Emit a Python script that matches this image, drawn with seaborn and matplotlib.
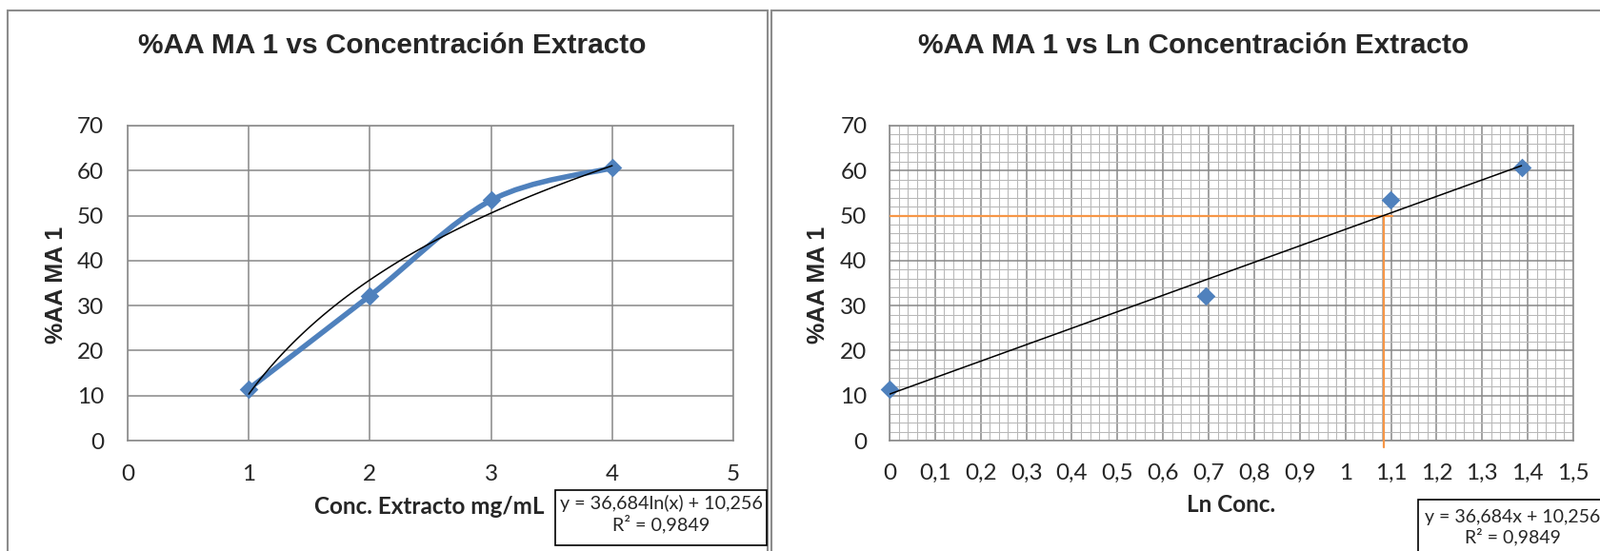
import numpy as np
import pandas as pd
import matplotlib
matplotlib.use("Agg")
import matplotlib.pyplot as plt
import seaborn as sns
from matplotlib.path import Path
from matplotlib.patches import PathPatch, Rectangle
from matplotlib.ticker import MultipleLocator

# --- data ---
conc = [1, 2, 3, 4]                      # mg/mL
aa_ma1 = [11.5, 32.2, 53.4, 60.6]        # %AA MA 1
target_aa = 50                           # 50 % line on the ln chart

conc_ticks = [0, 1, 2, 3, 4, 5]
conc_tick_labels = ["0", "1", "2", "3", "4", "5"]
ln_ticks = [0, 0.1, 0.2, 0.3, 0.4, 0.5, 0.6, 0.7, 0.8, 0.9, 1.0, 1.1, 1.2, 1.3, 1.4, 1.5]
ln_tick_labels = ["0", "0,1", "0,2", "0,3", "0,4", "0,5", "0,6", "0,7", "0,8",
                  "0,9", "1", "1,1", "1,2", "1,3", "1,4", "1,5"]
aa_ticks = [0, 10, 20, 30, 40, 50, 60, 70]

title_left = "%AA MA 1 vs Concentración Extracto"
title_right = "%AA MA 1 vs Ln Concentración Extracto"
eq_left = "y = 36,684ln(x) + 10,256\nR² = 0,9849"
eq_right = "y = 36,684x + 10,256\nR² = 0,9849"

df = pd.DataFrame({"conc": conc, "aa": aa_ma1})
df["ln_conc"] = np.log(df["conc"])

BLUE = "#4F81BD"
ORANGE = "#F79646"
GRID = "#878787"
MINOR = "#b8b8b8"
FRAME = "#8c8c8c"
CAL = ["Lato", "DejaVu Sans"]
ARIAL = ["Liberation Sans", "DejaVu Sans"]
TICK_FS = 17.5

W, H = 1680, 579
sns.set_style("white")
plt.rcParams["font.family"] = CAL
fig = plt.figure(figsize=(W / 100, H / 100), dpi=100)


def fx(x):
    return x / W


def fy(y):
    return 1 - y / H


def smooth_path(xs, ys):
    # Excel style smoothed line: cubic Bezier through the points
    pts = np.column_stack([xs, ys]).astype(float)
    n = len(pts)
    verts = [pts[0]]
    codes = [Path.MOVETO]
    for i in range(n - 1):
        p0 = pts[max(i - 1, 0)]
        p1 = pts[i]
        p2 = pts[i + 1]
        p3 = pts[min(i + 2, n - 1)]
        verts += [p1 + (p2 - p0) / 6, p2 - (p3 - p1) / 6, p2]
        codes += [Path.CURVE4] * 3
    return Path(verts, codes)


# panel frames
fig.patches.append(Rectangle((fx(8), fy(620)), fx(806 - 8), fy(11) - fy(620),
                             transform=fig.transFigure, fill=False, ec=FRAME, lw=1.5))
fig.patches.append(Rectangle((fx(810), fy(620)), fx(1700 - 810), fy(11) - fy(620),
                             transform=fig.transFigure, fill=False, ec=FRAME, lw=1.5))

ax1 = fig.add_axes([fx(134), fy(463), fx(770 - 134), fy(132) - fy(463)])
ax2 = fig.add_axes([fx(934), fy(463), fx(1652 - 934), fy(132) - fy(463)])

# === left: %AA vs concentration ===
ax1.add_patch(PathPatch(smooth_path(df["conc"], df["aa"]), fill=False, ec=BLUE,
                        lw=4, capstyle="round", joinstyle="round", zorder=3))
sns.scatterplot(data=df, x="conc", y="aa", marker="D", s=100, color=BLUE,
                edgecolor=BLUE, linewidth=0, ax=ax1, zorder=4)
sns.regplot(data=df, x="conc", y="aa", logx=True, ci=None, scatter=False,
            line_kws={"color": "black", "lw": 1.1, "zorder": 5}, ax=ax1)
ax1.set_xlim(0, 5)
ax1.set_ylim(0, 70)
ax1.set_xticks(conc_ticks, conc_tick_labels)
ax1.set_yticks(aa_ticks)
ax1.grid(True, color=GRID, lw=1.1)
ax1.tick_params(length=0, labelsize=TICK_FS, pad=18)
ax1.set_xlabel("")
ax1.set_ylabel("")

# === right: %AA vs ln concentration ===
sns.scatterplot(data=df, x="ln_conc", y="aa", marker="D", s=100, color=BLUE,
                edgecolor=BLUE, linewidth=0, ax=ax2, zorder=4, clip_on=False)
sns.regplot(data=df, x="ln_conc", y="aa", ci=None, scatter=False,
            line_kws={"color": "black", "lw": 1.1, "zorder": 5}, ax=ax2)
slope, intercept = np.polyfit(df["ln_conc"], df["aa"], 1)
x_target = (target_aa - intercept) / slope
ax2.plot([0, x_target + 0.02], [target_aa, target_aa], color=ORANGE, lw=1.6, zorder=3)
ax2.plot([x_target, x_target], [target_aa, -1.5], color=ORANGE, lw=1.6, zorder=3,
         clip_on=False)
ax2.set_xlim(0, 1.5)
ax2.set_ylim(0, 70)
ax2.set_xticks(ln_ticks, ln_tick_labels)
ax2.set_yticks(aa_ticks)
ax2.xaxis.set_minor_locator(MultipleLocator(0.02))
ax2.yaxis.set_minor_locator(MultipleLocator(2))
ax2.grid(True, which="minor", color=MINOR, lw=0.75, zorder=0)
ax2.grid(True, which="major", color=GRID, lw=1.1, zorder=1)
ax2.set_axisbelow(True)
ax2.tick_params(which="major", length=6, width=1.1, color=GRID, direction="out",
                labelsize=TICK_FS, pad=11)
ax2.tick_params(which="minor", length=0)
ax2.set_xlabel("")
ax2.set_ylabel("")

for ax in (ax1, ax2):
    for sp in ax.spines.values():
        sp.set_color(GRID)
        sp.set_linewidth(1.1)
        sp.set_visible(True)

# titles and axis labels
fig.text(fx(412), fy(48), title_left, ha="center", va="center", fontsize=21.5,
         fontweight="bold", family=ARIAL)
fig.text(fx(1253), fy(48), title_right, ha="center", va="center", fontsize=21.5,
         fontweight="bold", family=ARIAL)
fig.text(fx(59), fy(299), "%AA MA 1", ha="center", va="center", rotation=90,
         fontsize=18, fontweight="bold", family=ARIAL)
fig.text(fx(859), fy(299), "%AA MA 1", ha="center", va="center", rotation=90,
         fontsize=18, fontweight="bold", family=ARIAL)
fig.text(fx(451), fy(532), "Conc. Extracto mg/mL", ha="center", va="center",
         fontsize=17.5, fontweight="bold", family=CAL)
fig.text(fx(1293), fy(531), "Ln Conc.", ha="center", va="center",
         fontsize=17.5, fontweight="bold", family=CAL)

# trendline equation boxes
fig.patches.append(Rectangle((fx(583), fy(573)), fx(805 - 583), fy(515) - fy(573),
                             transform=fig.transFigure, fill=True, fc="white",
                             ec="black", lw=1.2))
fig.text(fx(694), fy(540), eq_left, ha="center", va="center", fontsize=14.2,
         family=CAL, linespacing=1.15)
fig.patches.append(Rectangle((fx(1489), fy(640)), fx(1700 - 1489), fy(525) - fy(640),
                             transform=fig.transFigure, fill=True, fc="white",
                             ec="black", lw=1.2))
fig.text(fx(1588), fy(554), eq_right, ha="center", va="center", fontsize=14,
         family=CAL, linespacing=1.15)

fig.savefig("out.png", dpi=100)
plt.close(fig)
